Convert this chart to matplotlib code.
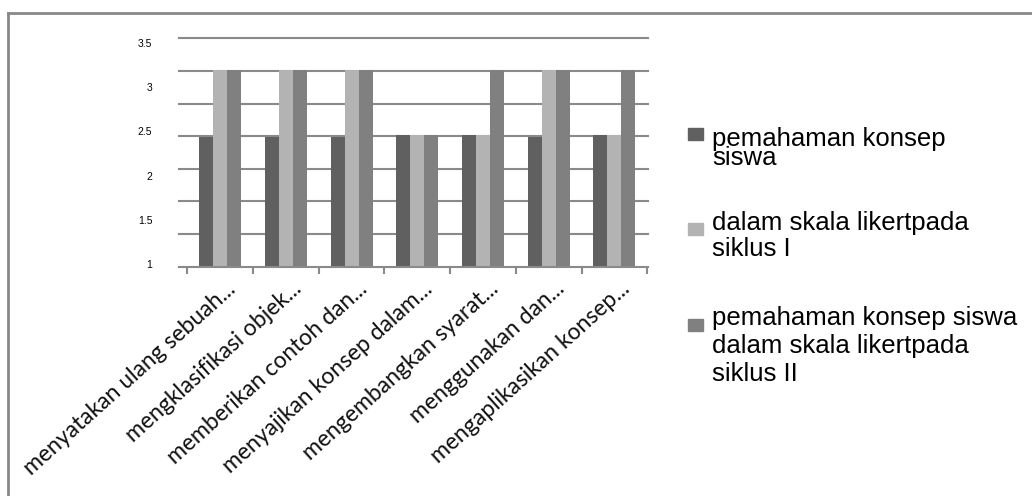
import numpy as np
import matplotlib
matplotlib.use("Agg")
import matplotlib.pyplot as plt
from matplotlib.patches import Rectangle
from matplotlib.lines import Line2D
from matplotlib.transforms import ScaledTranslation

# data
categories = ['menyatakan ulang sebuah...', 'mengklasifikasi objek...', 'memberikan contoh dan...',
              'menyajikan konsep dalam...', 'mengembangkan syarat...', 'menggunakan dan...',
              'mengaplikasikan konsep...']
seri_1 = [2.44, 2.44, 2.44, 2.46, 2.46, 2.44, 2.46]
seri_2 = [3.20, 3.20, 3.20, 2.46, 2.46, 3.20, 2.46]
seri_3 = [3.20, 3.20, 3.20, 2.46, 3.19, 3.20, 3.19]
legend_lines = [['pemahaman konsep', 'siswa'],
                ['dalam skala likertpada', 'siklus I'],
                ['pemahaman konsep siswa', 'dalam skala likertpada', 'siklus II']]
y_ticks = [1, 1.5, 2, 2.5, 3, 3.5]
colors = ['#606060', '#b3b3b3', '#808080']

W, H = 1032, 496
fig = plt.figure(figsize=(W / 100, H / 100), dpi=100)

def fx(px):
    return px / W

def fy(py):
    return 1 - py / H

ax = fig.add_axes([fx(178.6), fy(266.7), fx(648) - fx(178.6), fy(38.3) - fy(266.7)])

x = np.arange(len(categories))
bw = 0.213
for i, vals in enumerate([seri_1, seri_2, seri_3]):
    ax.bar(x + (i - 1) * bw, vals, width=bw, color=colors[i], zorder=3, linewidth=0)

ylo, yhi = 0.97, 3.553
ax.set_ylim(ylo, yhi)
ax.set_xlim(-0.632, 6.512)

# horizontal grid lines (8 evenly spaced, as in the picture)
for g in np.linspace(ylo, yhi, 8)[1:]:
    ax.axhline(g, color='#8a8a8a', linewidth=1.5, zorder=1, clip_on=False)

for s in ['top', 'right', 'left']:
    ax.spines[s].set_visible(False)
ax.spines['bottom'].set_color('#8a8a8a')
ax.spines['bottom'].set_linewidth(1.5)
ax.spines['bottom'].set_zorder(4)

ax.set_yticks(y_ticks)
ax.set_yticklabels(['1', '1.5', '2', '2.5', '3', '3.5'], fontsize=7.5, family='Liberation Sans')
ax.tick_params(axis='y', length=0, pad=19)

ax.set_xticks(x)
ax.set_xticklabels(categories, rotation=42, ha='right', va='baseline', rotation_mode='anchor',
                   fontsize=16.5, family='Lato', color='#111111')
ax.tick_params(axis='x', which='major', length=0, pad=0)
ax.set_xticks(np.arange(-0.5, len(categories)), minor=True)
ax.tick_params(axis='x', which='minor', length=5, width=1.5, color='#8a8a8a', direction='out')
off = ScaledTranslation(0.17, -0.24, fig.dpi_scale_trans)
for lbl in ax.get_xticklabels():
    lbl.set_transform(lbl.get_transform() + off)

# legend drawn by hand (baseline = last line of each entry)
squares = [127.7, 223, 319]
last_baseline = [165, 256.5, 381]
spacing = [0.76, 1.15, 1.2]
for i in range(3):
    fig.patches.append(Rectangle((fx(688), fy(squares[i] + 12)), fx(15), fy(0) - fy(12),
                                 transform=fig.transFigure, color=colors[i]))
    fig.text(fx(712), fy(last_baseline[i]), '\n'.join(legend_lines[i]), fontsize=18.5,
             family='Liberation Sans', va='baseline', linespacing=spacing[i])

# chart border (top and left only visible)
fig.add_artist(Line2D([fx(8), 1], [fy(13), fy(13)], color='#888888', linewidth=2))
fig.add_artist(Line2D([fx(8), fx(8)], [fy(13), 0], color='#888888', linewidth=2))

fig.savefig('out.png', dpi=100)
